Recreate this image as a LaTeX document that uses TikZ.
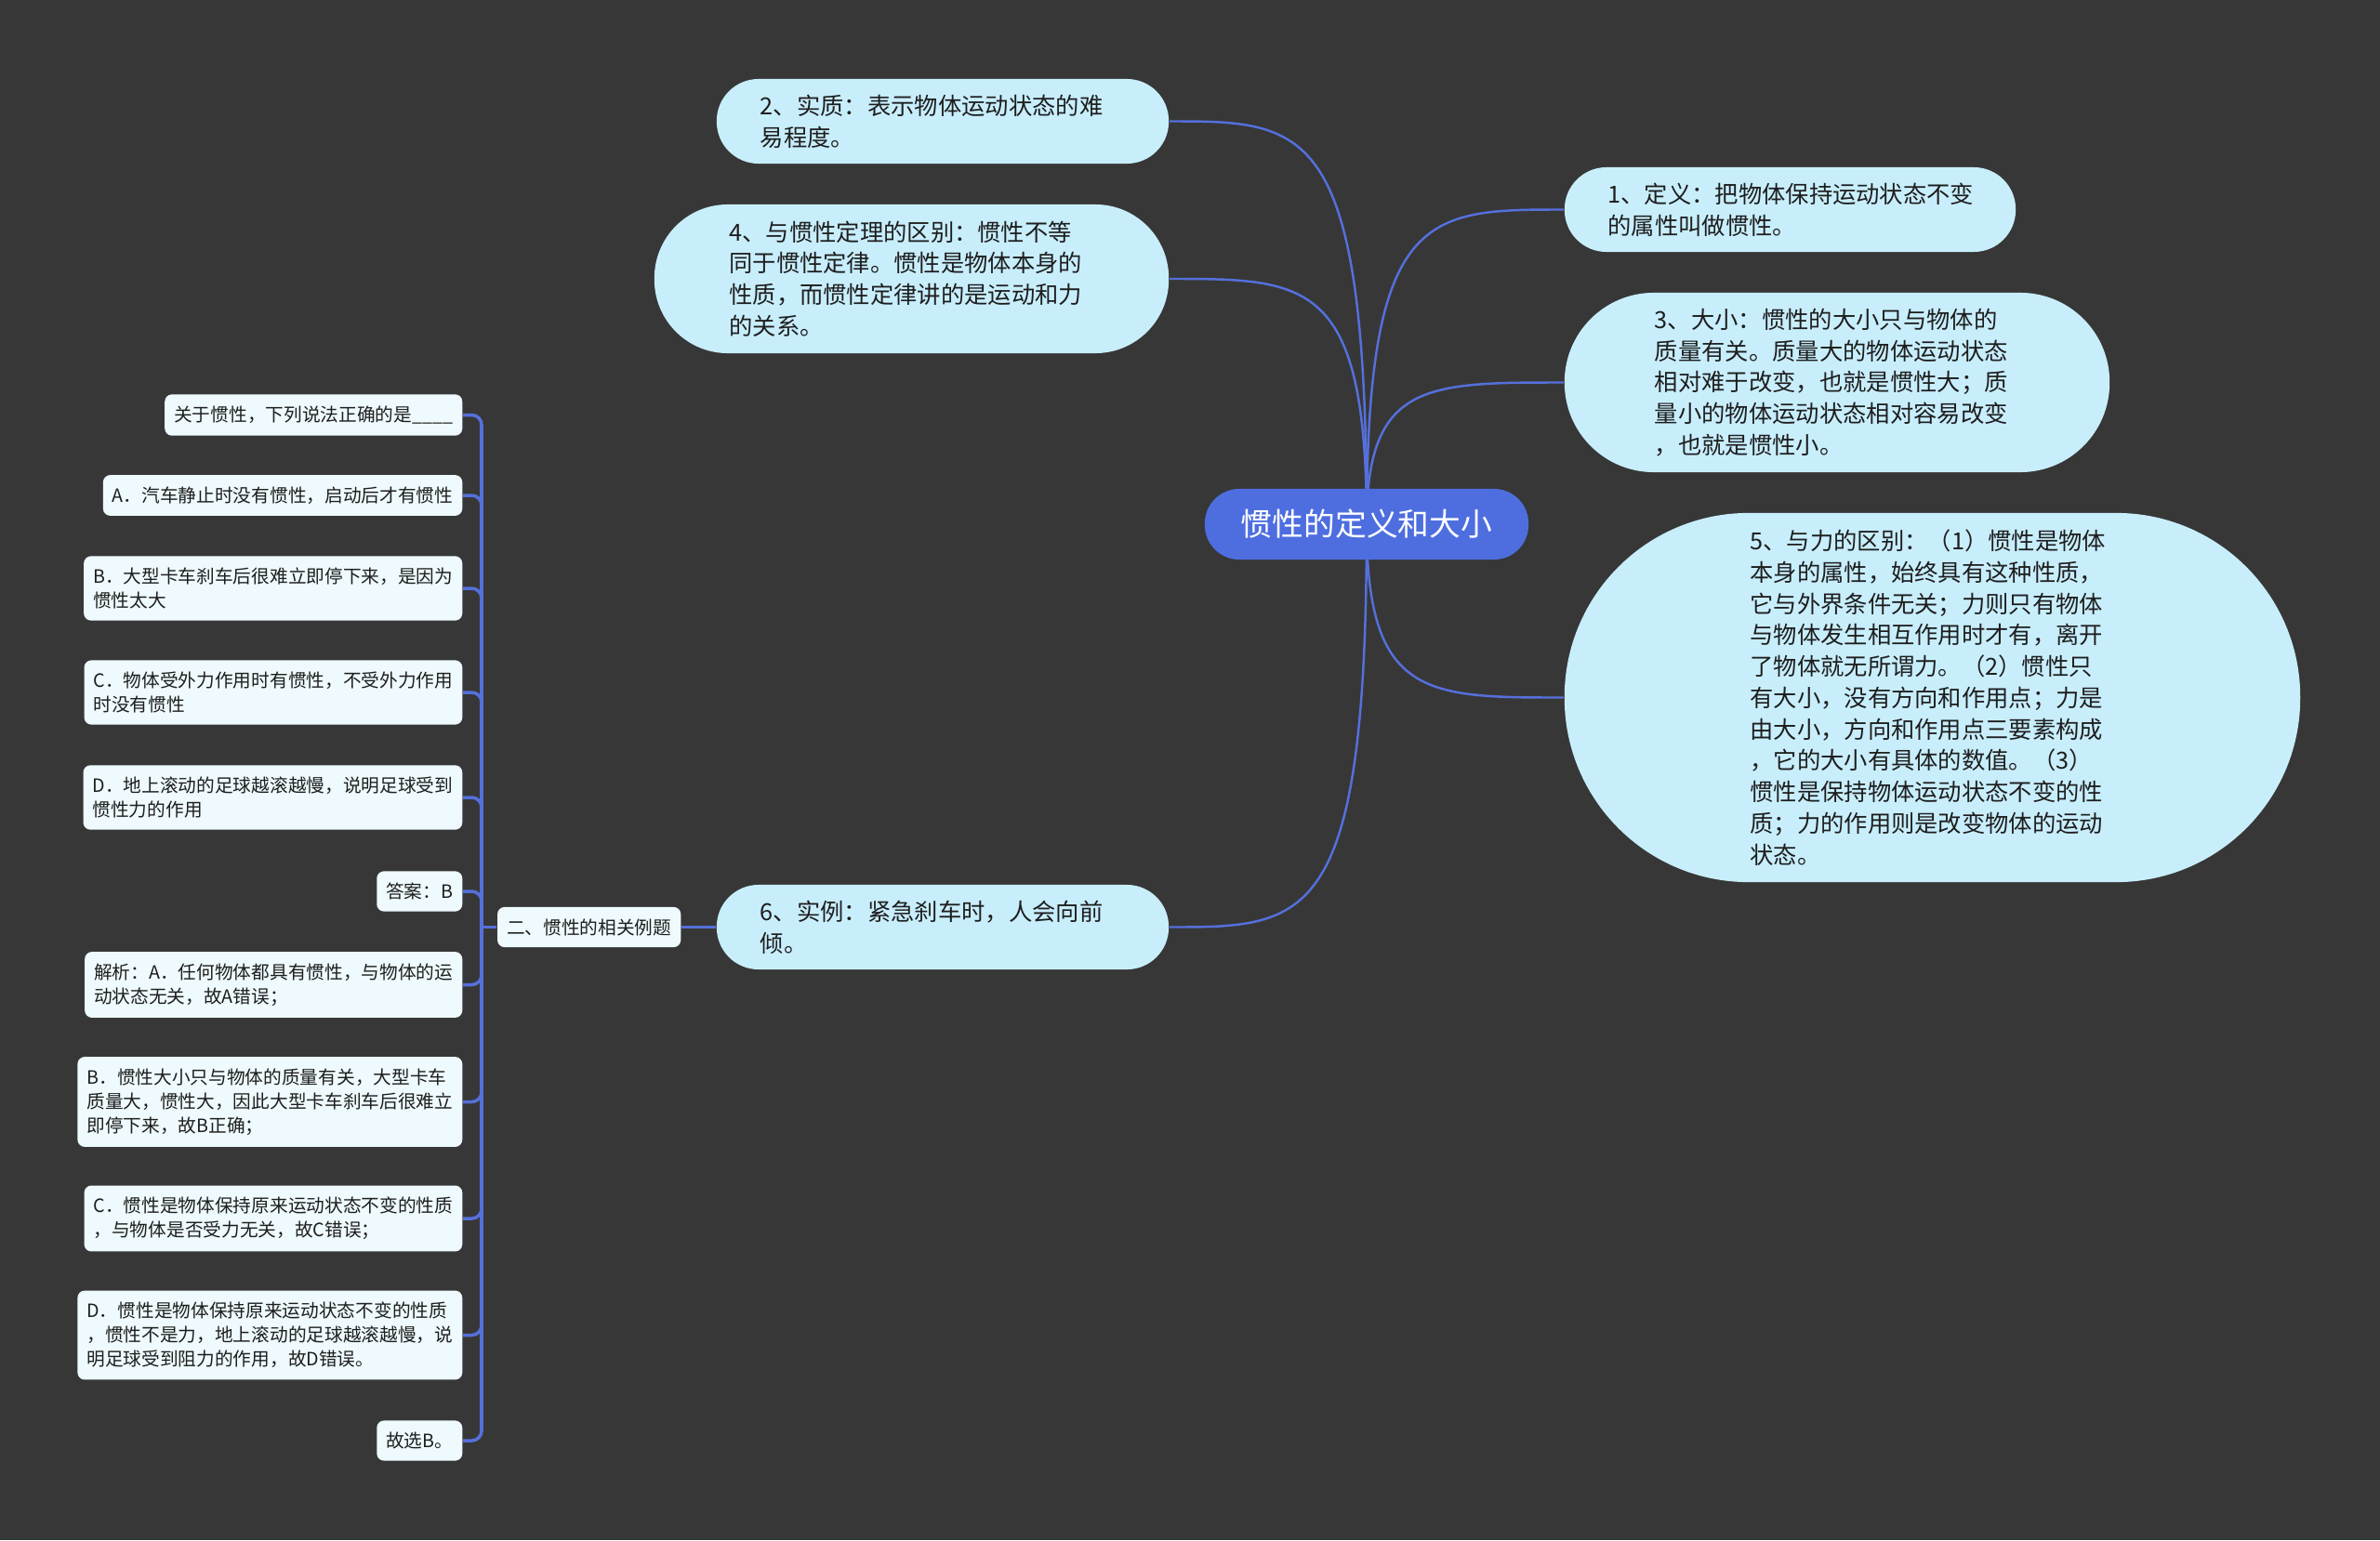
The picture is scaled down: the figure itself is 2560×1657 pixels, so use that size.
\documentclass[tikz,border=0pt]{standalone}
\usepackage{fontspec}
\setmainfont{Noto Sans CJK SC}
\usetikzlibrary{calc}
\definecolor{BoardGray}{HTML}{373737}
\definecolor{RootBlue}{HTML}{4E6EE0}
\definecolor{LinkBlue}{HTML}{5570DC}
\definecolor{TopicCyan}{HTML}{C8EEFC}
\definecolor{LeafMist}{HTML}{EEFAFD}
\definecolor{InkBlack}{HTML}{1E1E1E}
\pgfdeclarelayer{board}
\pgfdeclarelayer{links}
\pgfsetlayers{board,links,main}

\begin{document}
\begin{tikzpicture}[x=0.01cm, y=-0.01cm,
  topic/.style={fill=TopicCyan, text=InkBlack, align=left, text width=3.92cm,
    font=\fontsize{7.2}{9.6}\selectfont},
  leaf/.style={fill=LeafMist, text=InkBlack, align=left, rounded corners=2.2pt,
    inner xsep=0.1cm, inner ysep=0.125cm, anchor=east,
    font=\fontsize{5.6}{7.4}\selectfont},
  branch/.style={LinkBlue, line width=0.7pt},
  twig/.style={LinkBlue, line width=1pt, rounded corners=3pt}]
  \useasboundingbox (0,0) rectangle (2560,1657);
  \begin{pgfonlayer}{board}
    \fill[BoardGray] (0,0) rectangle (2560,1657);
  \end{pgfonlayer}

  % Centre topic and its six branches.
  \node[fill=RootBlue, text=white, rounded corners=0.37cm, minimum width=3.48cm,
    minimum height=0.76cm, font=\fontsize{9.6}{11}\selectfont] (root) at (1470,564)
    {惯性的定义和大小};
  \node[topic, minimum width=4.86cm, minimum height=0.91cm, rounded corners=0.45cm]
    (n2) at (1014,130.5) {2、实质：表示物体运动状态的难\\易程度。};
  \node[topic, minimum width=5.53cm, minimum height=1.6cm, rounded corners=0.79cm]
    (n4) at (980.5,300) {4、与惯性定理的区别：惯性不等\\同于惯性定律。惯性是物体本身的\\性质，而惯性定律讲的是运动和力\\的关系。};
  \node[topic, minimum width=4.85cm, minimum height=0.91cm, rounded corners=0.45cm]
    (n1) at (1925.5,225.5) {1、定义：把物体保持运动状态不变\\的属性叫做惯性。};
  \node[topic, minimum width=5.86cm, minimum height=1.93cm, rounded corners=0.96cm]
    (n3) at (1976,411.5) {3、大小：惯性的大小只与物体的\\质量有关。质量大的物体运动状态\\相对难于改变，也就是惯性大；质\\量小的物体运动状态相对容易改变\\，也就是惯性小。};
  \node[topic, minimum width=7.91cm, minimum height=3.97cm, rounded corners=1.98cm]
    (n5) at (2078.5,750.5) {5、与力的区别：（1）惯性是物体\\本身的属性，始终具有这种性质，\\它与外界条件无关；力则只有物体\\与物体发生相互作用时才有，离开\\了物体就无所谓力。（2）惯性只\\有大小，没有方向和作用点；力是\\由大小，方向和作用点三要素构成\\，它的大小有具体的数值。（3）\\惯性是保持物体运动状态不变的性\\质；力的作用则是改变物体的运动\\状态。};
  \node[topic, minimum width=4.86cm, minimum height=0.91cm, rounded corners=0.45cm]
    (n6) at (1014,997.5) {6、实例：紧急刹车时，人会向前\\倾。};

  % Worked example hanging off the sixth topic.
  \node[leaf] (ex) at (733,997.5) {二、惯性的相关例题};
  \node[leaf] (q) at (498,446.5) {关于惯性，下列说法正确的是\_\_\_\_};
  \node[leaf] (qa) at (498,533) {A．汽车静止时没有惯性，启动后才有惯性};
  \node[leaf] (qb) at (498,633) {B．大型卡车刹车后很难立即停下来，是因为\\惯性太大};
  \node[leaf] (qc) at (498,745) {C．物体受外力作用时有惯性，不受外力作用\\时没有惯性};
  \node[leaf] (qd) at (498,858) {D．地上滚动的足球越滚越慢，说明足球受到\\惯性力的作用};
  \node[leaf] (ans) at (498,959) {答案：B};
  \node[leaf] (ja) at (498,1059.5) {解析：A．任何物体都具有惯性，与物体的运\\动状态无关，故A错误；};
  \node[leaf] (jb) at (498,1185.5) {B．惯性大小只与物体的质量有关，大型卡车\\质量大，惯性大，因此大型卡车刹车后很难立\\即停下来，故B正确；};
  \node[leaf] (jc) at (498,1311) {C．惯性是物体保持原来运动状态不变的性质\\，与物体是否受力无关，故C错误；};
  \node[leaf] (jd) at (498,1436.5) {D．惯性是物体保持原来运动状态不变的性质\\，惯性不是力，地上滚动的足球越滚越慢，说\\明足球受到阻力的作用，故D错误。};
  \node[leaf] (fin) at (498,1550) {故选B。};
  \coordinate (trunk) at (518,997.5);

  \begin{pgfonlayer}{links}
    \foreach \topic/\side in {n1/west,n3/west,n5/west,n2/east,n4/east,n6/east}{
      \draw[branch] (root.center) .. controls (root.center |- \topic.\side)
        and ($(root.center |- \topic.\side)!0.3!(\topic.\side)$) .. (\topic.\side);
    }
    \draw[twig] (ex.east) -- (n6.west);
    \draw[twig] (ex.west) -- (trunk);
    \foreach \leaf in {q,qa,qb,qc,qd,ans,ja,jb,jc,jd,fin}{
      \draw[twig] (trunk) |- (\leaf.east);
    }
  \end{pgfonlayer}
\end{tikzpicture}
\end{document}
